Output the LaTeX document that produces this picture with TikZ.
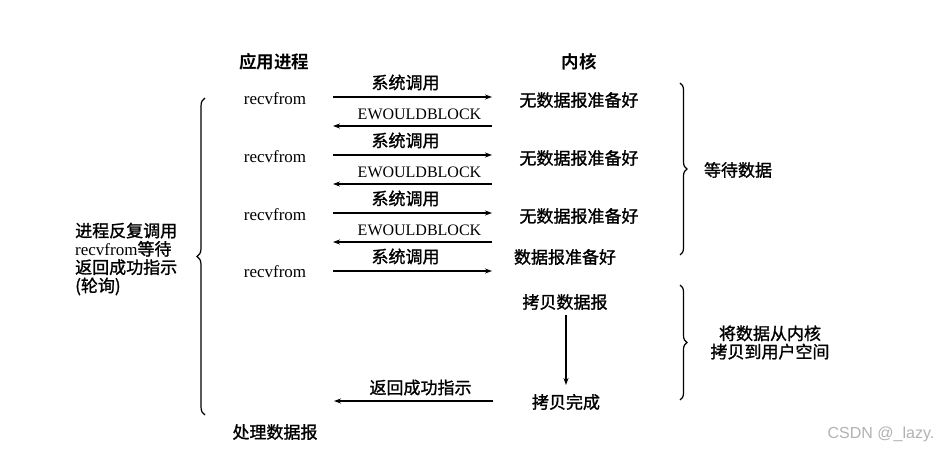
\documentclass[tikz,border=0pt]{standalone}
\usepackage{fontspec}
\setmainfont{Liberation Serif}
\newfontfamily\cjk{Noto Sans CJK SC}[RawFeature={embolden=1.3}]
\newfontfamily\cjkt{Noto Sans CJK SC Bold}
\newfontfamily\wmfont{Liberation Sans}
\usetikzlibrary{arrows.meta,decorations.pathreplacing}
\begin{document}
\begin{tikzpicture}[x=1pt,y=-1pt,
  every node/.style={inner sep=0pt},
  cn/.style={font=\fontsize{17}{18.3}\selectfont\cjk},
  ttl/.style={font=\fontsize{17.5}{20}\selectfont\cjkt},
  lat/.style={font=\fontsize{17}{20}\selectfont},
  ew/.style={font=\fontsize{16}{20}\selectfont},
  arr/.style={-{Stealth[length=7pt,width=5pt]}, line width=1.2pt},
  br/.style={decorate, decoration={brace, amplitude=8pt}, line width=1.2pt}]
\useasboundingbox[fill=white] (0,0) rectangle (938,449);

% titles
\node[ttl] (tapp) at (274,62) {应用进程};
\node[ttl] (tker) at (579,62) {内核};

% rows of polling
\foreach \k/\kl in {0/1,1/2,2/3}{
  \pgfmathsetmacro{\ya}{97+58*\k}
  \pgfmathsetmacro{\yb}{126+58*\k}
  \node[lat] (rf\kl) at (275,\ya+2) {recvfrom};
  \node[cn] (nd\kl) at (579,\ya+3) {无数据报准备好};
  \coordinate (sa\kl) at (333,\ya);
  \coordinate (sb\kl) at (492,\ya);
  \coordinate (ea\kl) at (492,\yb);
  \coordinate (eb\kl) at (333,\yb);
  \draw[arr] (sa\kl) -- node[cn, above=6pt, xshift=-7pt] (sl\kl) {系统调用} (sb\kl);
  \draw[arr] (ea\kl) -- node[ew, above=6pt, xshift=7pt] (el\kl) {EWOULDBLOCK} (eb\kl);
}

% fourth call
\node[lat] (rf4) at (275,272) {recvfrom};
\coordinate (sa4) at (333,271);
\coordinate (sb4) at (492,271);
\draw[arr] (sa4) -- node[cn, above=6pt, xshift=-7pt] (sl4) {系统调用} (sb4);
\node[cn] (ready) at (565,257) {数据报准备好};

% copy
\node[cn] (copy) at (565,302) {拷贝数据报};
\node[cn] (done) at (566,402) {拷贝完成};
\coordinate (cs) at (566,315);
\coordinate (ce) at (566,385);
\draw[arr] (cs) -- (ce);

% return
\coordinate (ra) at (493,401);
\coordinate (rb) at (334,401);
\draw[arr] (ra) -- node[cn, above=5pt, xshift=7pt] (rl) {返回成功指示} (rb);

\node[cn] (proc) at (275,432) {处理数据报};

% braces
\coordinate (lbB) at (205,415);
\coordinate (lbT) at (205,98);
\draw[br] (lbB) -- (lbT);
\node[cn, anchor=west, align=left] (poll) at (75,259)
  {进程反复调用\\{\rmfamily recvfrom}等待\\返回成功指示\\(轮询)};

\coordinate (rb1T) at (680,83);
\coordinate (rb1B) at (680,255);
\draw[br, decoration={amplitude=7pt}] (rb1T) -- (rb1B);
\node[cn] (wait) at (738,170) {等待数据};

\coordinate (rb2T) at (680,285);
\coordinate (rb2B) at (680,400);
\draw[br, decoration={amplitude=7pt}] (rb2T) -- (rb2B);
\node[cn, align=center] (cpy) at (770,342.5) {将数据从内核\\拷贝到用户空间};

\node[font=\wmfont\fontsize{16}{18}\selectfont, text=black!30] (wm) at (881,434) {CSDN @\_lazy.};
\end{tikzpicture}
\end{document}
